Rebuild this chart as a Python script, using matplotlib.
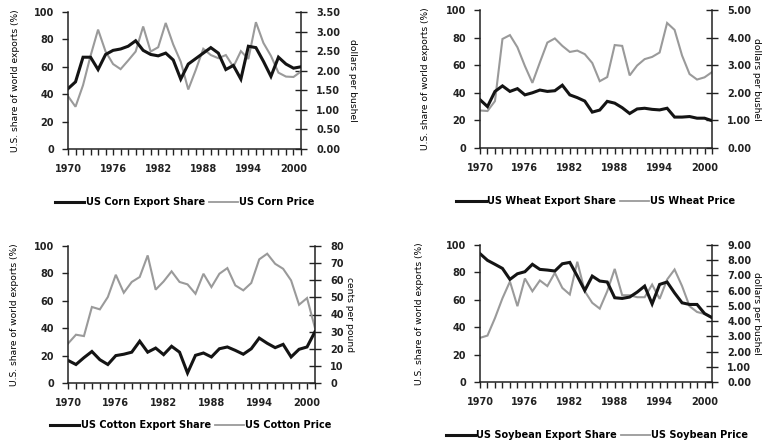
import matplotlib
matplotlib.use("Agg")
import matplotlib.pyplot as plt
from matplotlib.lines import Line2D

years = list(range(1970, 2002))
year_labels = [str(y) if (y - 1970) % 6 == 0 else "" for y in years]

corn_share = [44, 49, 67, 67, 58, 69, 72, 73, 75, 79, 72, 69, 68, 70, 65, 51,
              62, 66, 70, 74, 70, 58, 61, 51, 75, 74, 64, 53, 67, 62, 59, 60]
corn_price = [1.35, 1.08, 1.63, 2.38, 3.05, 2.49, 2.17, 2.04, 2.26, 2.49, 3.13,
              2.49, 2.60, 3.22, 2.67, 2.23, 1.52, 2.02, 2.56, 2.40, 2.32, 2.40,
              2.10, 2.50, 2.30, 3.24, 2.71, 2.38, 1.95, 1.85, 1.84, 1.98]

wheat_share = [35, 30, 41, 45, 41, 43, 38.5, 40, 42, 41, 41.5, 45.5, 38.5, 36.5,
               34, 26, 27.5, 33.8, 32.5, 29.2, 25, 28.3, 28.8, 28, 27.6, 28.8,
               22.4, 22.4, 22.8, 21.6, 21.6, 19.8]
wheat_price = [1.36, 1.34, 1.70, 3.95, 4.09, 3.65, 2.97, 2.36, 3.10, 3.82, 3.97,
               3.70, 3.48, 3.53, 3.40, 3.08, 2.42, 2.57, 3.73, 3.70, 2.63, 2.99,
               3.22, 3.30, 3.46, 4.53, 4.28, 3.35, 2.68, 2.48, 2.56, 2.75]

cotton_share = [16.5, 13.5, 18.5, 23, 17, 13.5, 20, 21, 22.5, 30.5, 22.5, 25.5,
                20.7, 26.8, 22.5, 7.3, 20.2, 21.9, 19, 25, 26.3, 23.8, 21, 25,
                32.8, 29, 25.8, 28.2, 19, 24.6, 26.3, 37.5]
cotton_price = [23, 28.2, 27.4, 44.4, 43, 50.2, 63.2, 52.7, 59, 61.9, 74.5, 54.5,
                59.3, 65.2, 59, 57.6, 52.1, 63.8, 56, 63.8, 67.1, 57, 54.1, 58.4,
                72.2, 75.5, 69.6, 66.7, 59.9, 45.7, 49.6, 32.1]

soy_share = [93.7, 88.8, 85.9, 82.9, 74.9, 79, 80.5, 85.9, 82.2, 81.7, 81, 86.3,
             87.3, 77.3, 66.8, 77.3, 73.7, 73, 61.5, 61, 62, 65.6, 70, 57, 71.2,
             73, 65, 57.8, 56.6, 56.6, 50, 47]
soy_price = [2.9, 3.05, 4.2, 5.5, 6.6, 4.98, 6.8, 5.96, 6.67, 6.3, 7.17, 6.18,
             5.75, 7.9, 5.96, 5.2, 4.82, 5.96, 7.43, 5.7, 5.7, 5.57, 5.57, 6.4,
             5.46, 6.73, 7.39, 6.3, 4.98, 4.6, 4.47, 4.2]

BLACK = "#141414"
GRAY = "#9a9a9a"
TICKFONT = dict(family="DejaVu Sans", weight="bold", size=7)
LABELFONT = dict(family="DejaVu Sans", size=6.6)

fig = plt.figure(figsize=(7.64, 4.44), dpi=100)
W, H = 764, 444


def panel(box, share, price, crop, pmax, pstep, pfmt, punit, left_lab_x, right_lab_x, legend_xy):
    x0, x1, y0, y1 = box  # pixel edges of the plot area
    ax = fig.add_axes([x0 / W, 1 - y1 / H, (x1 - x0) / W, (y1 - y0) / H])
    ax2 = ax.twinx()
    # share line goes on top of the price line
    ax.set_zorder(ax2.get_zorder() + 1)
    ax.patch.set_visible(False)

    ax2.plot(years, price, color=GRAY, lw=1.5, solid_joinstyle="miter")
    ax.plot(years, share, color=BLACK, lw=2.2, solid_joinstyle="miter")

    ax.set_xlim(1970, 2001)
    ax.set_ylim(0, 100)
    ax2.set_ylim(0, pmax)

    ax.set_xticks(years)
    ax.set_xticklabels(year_labels, fontdict=TICKFONT)
    ax.set_yticks(range(0, 101, 20))
    ax.set_yticklabels([str(v) for v in range(0, 101, 20)], fontdict=TICKFONT)
    pticks = [i * pstep for i in range(int(round(pmax / pstep)) + 1)]
    ax2.set_yticks(pticks)
    ax2.set_yticklabels([pfmt.format(v) for v in pticks], fontdict=TICKFONT)

    ax.tick_params(axis="x", direction="out", length=4, width=1, pad=7, colors="#222222")
    ax.tick_params(axis="y", direction="out", length=4, width=1, pad=6, colors="#222222")
    ax2.tick_params(axis="y", direction="inout", length=8, width=1, pad=7, colors="#222222")

    for a in (ax, ax2):
        a.spines["top"].set_visible(False)
        for s in ("left", "right", "bottom"):
            a.spines[s].set_linewidth(1.1)
            a.spines[s].set_color("#222222")
    ax.spines["right"].set_visible(False)
    ax2.spines["left"].set_visible(False)
    ax2.spines["bottom"].set_visible(False)

    ax.set_ylabel("U.S. share of world exports (%)", fontdict=LABELFONT, va="center")
    ax.yaxis.set_label_coords(left_lab_x, 0.5)
    ax2.set_ylabel(punit, fontdict=LABELFONT, rotation=270, va="center")
    ax2.yaxis.set_label_coords(right_lab_x, 0.5)

    handles = [Line2D([], [], color=BLACK, lw=2.2), Line2D([], [], color=GRAY, lw=1.3)]
    labels = [f"US {crop} Export Share", f"US {crop} Price"]
    fig.legend(handles, labels, loc="center",
               bbox_to_anchor=(legend_xy[0] / W, 1 - legend_xy[1] / H),
               ncol=2, frameon=False, handlelength=3.0, handletextpad=0.15,
               columnspacing=0.4, prop=dict(family="DejaVu Sans", weight="bold", size=7))


panel((68, 301, 12, 149), corn_share, corn_price, "Corn", 3.5, 0.5, "{:.2f}",
      "dollars per bushel", -0.227, 1.219, (185, 202))
panel((480, 712, 10, 148), wheat_share, wheat_price, "Wheat", 5.0, 1.0, "{:.2f}",
      "dollars per bushel", -0.237, 1.193, (596, 201))
panel((68, 315, 246, 383), cotton_share, cotton_price, "Cotton", 80, 10, "{:d}",
      "cents per pound", -0.215, 1.14, (191, 425))
panel((480, 712, 245, 382), soy_share, soy_price, "Soybean", 9.0, 1.0, "{:.2f}",
      "dollars per bushel", -0.259, 1.193, (597, 435))

fig.savefig("out.png", dpi=100)
